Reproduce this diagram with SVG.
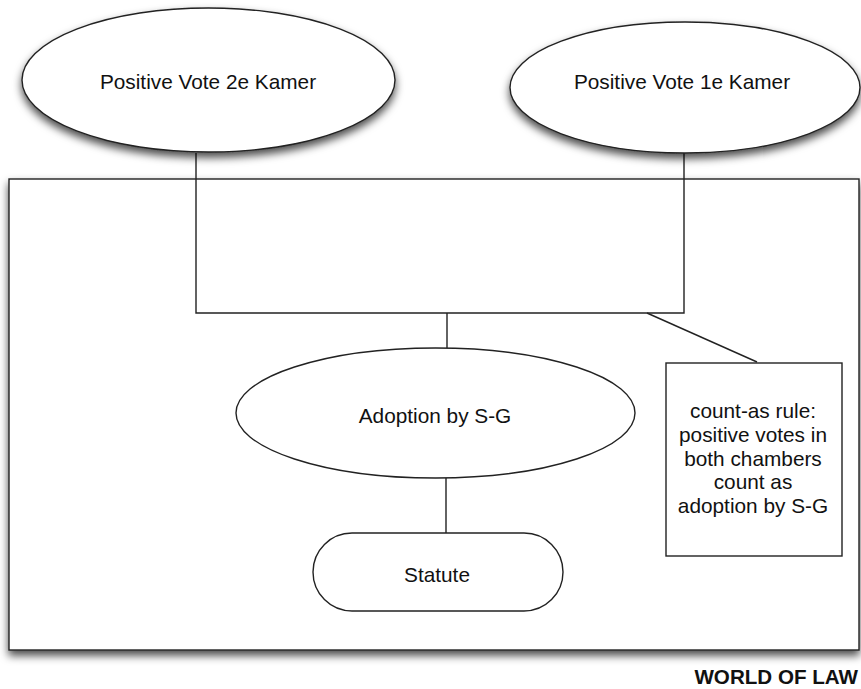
<svg xmlns="http://www.w3.org/2000/svg" width="861" height="689" viewBox="0 0 861 689">
<defs>
<style>
.shape{fill:#fff;stroke:#222;stroke-width:1.4}
.line{fill:none;stroke:#222;stroke-width:1.4}
.lbl{font-family:"Liberation Sans",Arial,sans-serif;font-size:20.8px;fill:#111;text-anchor:middle}
.title{font-family:"Liberation Sans",Arial,sans-serif;font-size:20.6px;font-weight:bold;fill:#111;text-anchor:end}
</style>
<filter id="sh" x="-10%" y="-10%" width="120%" height="130%">
<feDropShadow dx="0" dy="5" stdDeviation="4" flood-color="#000" flood-opacity="0.7"/>
</filter>
</defs>
<rect width="861" height="689" fill="#fff"/>
<g id="world">
<rect class="shape" x="9" y="179" width="850" height="471" filter="url(#sh)"/>
<text class="title" x="858" y="684">WORLD OF LAW</text>
</g>
<g id="connectors">
<path class="line" d="M196 153 V313 H684 V153"/>
<path class="line" d="M447 313 V348"/>
<path class="line" d="M446 478 V533"/>
<path class="line" d="M647 313 L757 362"/>
</g>
<g id="vote2">
<ellipse class="shape" cx="208.5" cy="80" rx="186.5" ry="72" filter="url(#sh)"/>
<text class="lbl" x="208" y="89">Positive Vote 2e Kamer</text>
</g>
<g id="vote1">
<ellipse class="shape" cx="685" cy="87.5" rx="175" ry="65.5" filter="url(#sh)"/>
<text class="lbl" x="682" y="89">Positive Vote 1e Kamer</text>
</g>
<g id="adoption">
<ellipse class="shape" cx="435.5" cy="413" rx="199.5" ry="65"/>
<text class="lbl" x="435" y="423">Adoption by S-G</text>
</g>
<g id="statute">
<rect class="shape" x="313" y="533" width="250" height="78" rx="39" ry="39"/>
<text class="lbl" x="437" y="582">Statute</text>
</g>
<g id="rule">
<rect class="shape" x="666" y="363" width="176" height="193"/>
<text class="lbl" x="753" y="418">count-as rule:</text>
<text class="lbl" x="753" y="442">positive votes in</text>
<text class="lbl" x="753" y="466">both chambers</text>
<text class="lbl" x="753" y="489">count as</text>
<text class="lbl" x="753" y="513">adoption by S-G</text>
</g>
</svg>
